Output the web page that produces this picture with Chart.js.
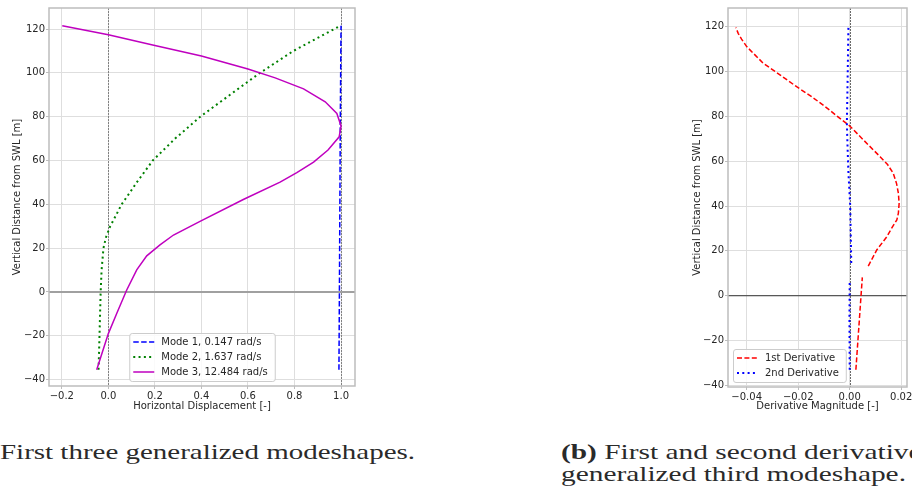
<!DOCTYPE html>
<html>
<head>
<meta charset="utf-8">
<script src="https://cdn.jsdelivr.net/npm/chart.js@4.4.1/dist/chart.umd.min.js"></script>
<style>
  html, body { margin: 0; padding: 0; background: #fff; }
  body { width: 912px; height: 498px; position: relative; overflow: hidden; }
  canvas { position: absolute; top: 0; }
  #modes { left: 0; }
  #derivs { left: 680px; }
  .cap { position: absolute; font-family: 'Liberation Serif', serif; font-size: 22px; line-height: 22px; white-space: nowrap; color: #2a2a2a; transform-origin: 0 0; }
</style>
</head>
<body>
<canvas id="modes" width="375" height="415"></canvas>
<canvas id="derivs" width="240" height="415"></canvas>
<div class="cap" id="capA" style="left:0;top:440.6px">First three generalized modeshapes.</div>
<div class="cap" id="capB1" style="left:561px;top:440.9px"><b>(b)</b> First and second derivatives of the</div>
<div class="cap" id="capB2" style="left:561px;top:463.3px">generalized third modeshape.</div>
<script>
// (a) modeshapes, height above SWL vs displacement
const mode1X = [0.991, 0.993, 0.995, 0.997, 1.0];
const mode1Y = [-35.5, 0, 40, 80, 121.5];
const mode2X = [-0.042, -0.038, -0.033, -0.029, -0.021, -0.01, 0.008, 0.033, 0.057, 0.09, 0.122, 0.191, 0.287, 0.395, 0.523, 0.652, 0.795, 0.997];
const mode2Y = [-35.5, -20, 0, 10, 20, 25, 30, 35, 40, 45, 50, 60, 70, 80, 90, 100, 110, 121.5];
const mode3X = [-0.05, 0.0, 0.036, 0.079, 0.122, 0.165, 0.222, 0.28, 0.394, 0.58, 0.738, 0.81, 0.882, 0.944, 0.992, 1.0, 0.982, 0.932, 0.839, 0.717, 0.6, 0.4, 0.2, 0.0, -0.198];
const mode3Y = [-35.5, -19, -9.8, 0.9, 10.1, 16.5, 21.5, 26, 32.2, 42.2, 50.1, 54.5, 59.3, 64.8, 70.8, 75.8, 81.5, 86.8, 92.7, 97.7, 101.8, 107.7, 112.5, 117.4, 121.5];
const modeLabels = ['Mode 1, 0.147 rad/s', 'Mode 2, 1.637 rad/s', 'Mode 3, 12.484 rad/s'];

// (b) derivatives of mode 3 (null = break between segments)
const d1X = [0.0024, 0.0049, null, 0.0072, 0.0105, 0.0144, 0.0163, 0.0183, 0.0189, 0.0192, 0.0189, 0.0182, 0.0169, 0.0147, 0.0118, 0.0053, 0.0, -0.0048, -0.0095, -0.0148, -0.0206, -0.0271, -0.0336, -0.0368, -0.0400, -0.0420, -0.0433, -0.0442];
const d1Y = [-33, 8.2, null, 13.2, 20.4, 26.3, 30.1, 33.8, 36.8, 41.2, 45.7, 50, 54.6, 58.5, 62.0, 69.5, 75.7, 80, 84.3, 88.8, 93.2, 98.5, 103.7, 107.4, 111.1, 114.4, 117.0, 119.6];
const d2X = [0.0, -0.0001, 0.0, null, 0.0006, 0.0004, 0.0002, -0.0005, -0.0008, -0.0011, -0.0009, -0.0007, -0.0005];
const d2Y = [-33, -10, 7, null, 14.6, 28, 40, 55, 65, 77, 90, 105, 120.5];
const derivLabels = ['1st Derivative', '2nd Derivative'];

const heightTicks = [-40, -20, 0, 20, 40, 60, 80, 100, 120];
const dispTicks = [-0.2, 0.0, 0.2, 0.4, 0.6, 0.8, 1.0];
const derivTicks = [-0.04, -0.02, 0.0, 0.02];
const heightTitle = 'Vertical Distance from SWL [m]';
const dispTitle = 'Horizontal Displacement [-]';
const derivTitle = 'Derivative Magnitude [-]';

Chart.defaults.font.family = '"DejaVu Sans", sans-serif';
Chart.defaults.font.size = 10;
Chart.defaults.color = '#262626';

const pts = (xs, ys) => xs.map((x, i) => ({ x: x, y: ys[i] }));
const fmt = (v, d) => {
  if (Math.abs(v) < 1e-9) v = 0;
  return v.toFixed(d).replace('-', '\u2212');
};

function axis(o) {
  return {
    type: 'linear',
    min: o.min,
    max: o.max,
    grid: { color: '#dedede', lineWidth: 1, tickColor: '#bdbdbd', tickLength: 3 },
    border: { display: false },
    ticks: { autoSkip: false, maxRotation: 0, padding: o.pad, callback: v => fmt(v, o.digits) },
    title: { display: true, text: o.title, font: { size: 10 }, padding: o.titlePad },
    afterBuildTicks: s => { s.ticks = o.ticks.map(v => ({ value: v })); },
    afterFit: s => {
      if (o.width) s.width = o.width;
      if (o.height) s.height = o.height;
      s.paddingLeft = s.paddingRight = s.paddingTop = s.paddingBottom = 0;
    }
  };
}

function line(label, xs, ys, color, width, dash, order) {
  return {
    label: label,
    data: pts(xs, ys),
    borderColor: color,
    backgroundColor: color,
    borderWidth: width,
    borderDash: dash,
    borderCapStyle: 'butt',
    pointRadius: 0,
    showLine: true,
    spanGaps: false,
    tension: 0,
    fill: false,
    order: order
  };
}

const refLines = {
  id: 'refLines',
  beforeDatasetsDraw(chart, args, opts) {
    const { ctx, chartArea: a, scales: { x, y } } = chart;
    ctx.save();
    ctx.beginPath();
    ctx.rect(a.left, a.top, a.width, a.height);
    ctx.clip();
    opts.vertical.forEach(v => {
      const px = Math.round(x.getPixelForValue(v)) + 0.5;
      ctx.strokeStyle = opts.vColor;
      ctx.lineWidth = opts.vWidth;
      ctx.setLineDash(opts.vDash);
      ctx.beginPath(); ctx.moveTo(px, a.top); ctx.lineTo(px, a.bottom); ctx.stroke();
    });
    opts.horizontal.forEach(v => {
      const py = y.getPixelForValue(v);
      ctx.strokeStyle = opts.hColor;
      ctx.lineWidth = opts.hWidth;
      ctx.setLineDash([]);
      ctx.beginPath(); ctx.moveTo(a.left, py); ctx.lineTo(a.right, py); ctx.stroke();
    });
    ctx.restore();
  }
};

const frame = {
  id: 'frame',
  afterDatasetsDraw(chart) {
    const { ctx, chartArea: a } = chart;
    ctx.save();
    ctx.strokeStyle = '#bdbdbd';
    ctx.lineWidth = 1.5;
    ctx.strokeRect(a.left, a.top, a.width, a.height);
    ctx.restore();
  }
};

const boxLegend = {
  id: 'boxLegend',
  afterDraw(chart, args, opts) {
    const { ctx, chartArea: a } = chart;
    const sets = chart.data.datasets;
    ctx.save();
    ctx.font = '10px "DejaVu Sans"';
    const textW = Math.max(...sets.map(d => ctx.measureText(d.label).width));
    const w = 32 + textW + 7, h = sets.length * 15 + 3;
    const left = opts.place === 'center' ? (a.left + a.right) / 2 - w / 2 : a.left + 5;
    const top = a.bottom - 5 - h;
    ctx.fillStyle = 'rgba(255,255,255,0.85)';
    ctx.strokeStyle = '#cccccc';
    ctx.lineWidth = 1;
    ctx.beginPath();
    ctx.roundRect(left + 0.5, top + 0.5, w, h, 2.5);
    ctx.fill();
    ctx.stroke();
    sets.forEach((d, i) => {
      const cy = top + 9 + i * 15;
      ctx.strokeStyle = d.borderColor;
      ctx.lineWidth = d.borderWidth;
      ctx.setLineDash(d.borderDash);
      ctx.beginPath(); ctx.moveTo(left + 4, cy); ctx.lineTo(left + 25, cy); ctx.stroke();
      ctx.setLineDash([]);
      ctx.fillStyle = '#262626';
      ctx.textBaseline = 'middle';
      ctx.fillText(d.label, left + 32, cy + 0.5);
    });
    ctx.restore();
  }
};

new Chart(document.getElementById('modes'), {
  type: 'scatter',
  data: {
    datasets: [
      line(modeLabels[0], mode1X, mode1Y, '#0000ff', 1.5, [5.5, 2.4], 2),
      line(modeLabels[1], mode2X, mode2Y, '#008000', 2, [2, 3.3], 1),
      line(modeLabels[2], mode3X, mode3Y, '#bf00bf', 1.5, [], 0)
    ]
  },
  options: {
    responsive: false,
    animation: false,
    layout: { padding: { top: 8, right: 20, left: 0, bottom: 0 } },
    scales: {
      x: axis({ min: -0.255, max: 1.06, ticks: dispTicks, digits: 1, title: dispTitle, pad: 1, titlePad: { top: 0, bottom: 3 }, height: 29 }),
      y: axis({ min: -42.9, max: 129.6, ticks: heightTicks, digits: 0, title: heightTitle, pad: 1, titlePad: { top: 11, bottom: 0 }, width: 49 })
    },
    plugins: {
      legend: { display: false },
      tooltip: { enabled: false },
      refLines: { vertical: [0, 1], vColor: '#6a6a6a', vWidth: 0.8, vDash: [2, 1], horizontal: [0], hColor: '#a0a0a0', hWidth: 2 },
      boxLegend: { place: 'center' }
    }
  },
  plugins: [refLines, frame, boxLegend]
});

new Chart(document.getElementById('derivs'), {
  type: 'scatter',
  data: {
    datasets: [
      line(derivLabels[0], d1X, d1Y, '#ff0000', 1.5, [5, 2.4], 1),
      line(derivLabels[1], d2X, d2Y, '#0000ff', 2, [2, 3.3], 0)
    ]
  },
  options: {
    responsive: false,
    animation: false,
    layout: { padding: { top: 8, right: 13, left: 0, bottom: 0 } },
    scales: {
      x: axis({ min: -0.04726, max: 0.02225, ticks: derivTicks, digits: 2, title: derivTitle, pad: 1, titlePad: { top: 0, bottom: 3 }, height: 28 }),
      y: axis({ min: -40.7, max: 128.3, ticks: heightTicks, digits: 0, title: heightTitle, pad: 1, titlePad: { top: 11, bottom: 0 }, width: 48 })
    },
    plugins: {
      legend: { display: false },
      tooltip: { enabled: false },
      refLines: { vertical: [0], vColor: '#444444', vWidth: 0.8, vDash: [2, 1], horizontal: [0], hColor: '#333333', hWidth: 1 },
      boxLegend: { place: 'left' }
    }
  },
  plugins: [refLines, frame, boxLegend]
});

// stretch the serif captions to the widths of the reference lines
const capA = document.getElementById('capA');
const capB1 = document.getElementById('capB1');
const capB2 = document.getElementById('capB2');
const sB = 345 / capB2.getBoundingClientRect().width;
const sA = 415 / capA.getBoundingClientRect().width;
capA.style.transform = 'scaleX(' + sA + ')';
capB1.style.transform = 'scaleX(' + sB + ')';
capB2.style.transform = 'scaleX(' + sB + ')';
</script>
</body>
</html>
